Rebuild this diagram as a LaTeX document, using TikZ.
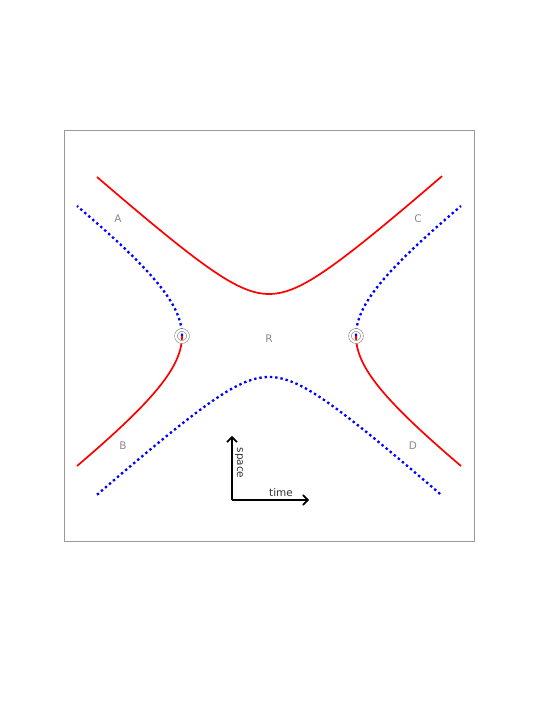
\documentclass[tikz,border=0pt]{standalone}
\usepackage{fontspec}
\setsansfont{DejaVu Sans}
\usepackage{tikz}
\usetikzlibrary{arrows.meta}
\tikzset{redline/.style={thick, red, line width=1.7bp}}
\tikzset{blueline/.style={blue, line width=2.3bp, dash pattern=on 2.4bp off 2.9bp}}
\tikzset{region/.style={font=\sffamily\fontsize{10.5}{12}\selectfont, text=black!45}}
\tikzset{axislabel/.style={font=\sffamily\fontsize{10.5}{12}\selectfont, text=black!80}}
\tikzset{axis/.style={line width=1.6bp, -{Straight Barb[length=5bp,width=10bp]}}}
\tikzset{junction/.style={circle, draw=black!45, line width=0.6bp, double=white, double distance=2.2bp, minimum size=12bp, inner sep=0pt}}

\begin{document}
\begin{tikzpicture}[x=1bp,y=1bp]
\useasboundingbox (0,0) rectangle (554,717);
\draw[black!40, line width=0.8bp] (64,176) rectangle (474,587);

% upper and lower branches
\draw[redline] plot[domain=-17.2:17.3, samples=120, smooth] ({269+10*\x},{381+10*sqrt(17.64+0.795*\x*\x)});
\draw[blueline] plot[domain=-17.2:17.3, samples=120, smooth] ({269+10*\x},{381-10*sqrt(16.81+0.795*\x*\x)});

% left and right branches
\draw[blueline] plot[domain=0:13, samples=80, smooth] ({269-10*sqrt(75.69+1.733*\x*\x)},{381+10*\x});
\draw[redline] plot[domain=0:-13, samples=80, smooth] ({269-10*sqrt(75.69+1.733*\x*\x)},{381+10*\x});
\draw[blueline] plot[domain=0:13, samples=80, smooth] ({269+10*sqrt(75.69+1.733*\x*\x)},{381+10*\x});
\draw[redline] plot[domain=0:-13, samples=80, smooth] ({269+10*sqrt(75.69+1.733*\x*\x)},{381+10*\x});

\node[junction] (jl) at (182,381) {};
\node[junction] (jr) at (356,381) {};

\node[region] (A) at (118,498) {A};
\node[region] (C) at (418,498) {C};
\node[region] (B) at (123,271) {B};
\node[region] (D) at (413,271) {D};
\node[region] (R) at (269,378) {R};

% axes
\coordinate (o) at (232,217);
\coordinate (up) at (232,281);
\coordinate (rt) at (309,217);
\draw[axis] (o) -- (up);
\draw[axis] (o) -- (rt);
\node[axislabel, rotate=-90] (space) at (239,254) {space};
\node[axislabel] (time) at (281,224) {time};
\end{tikzpicture}
\end{document}
